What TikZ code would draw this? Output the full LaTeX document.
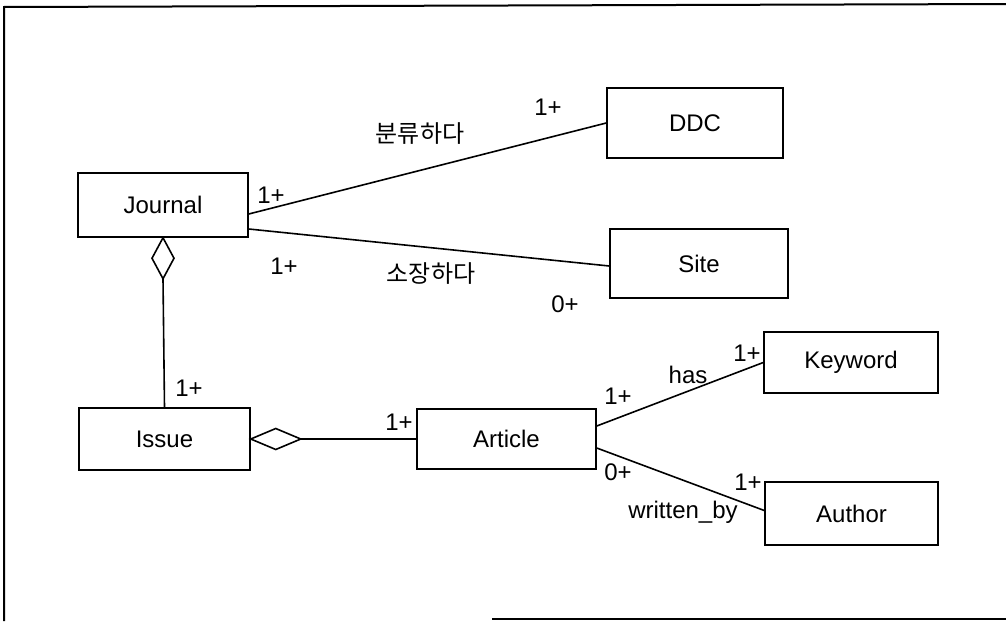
\documentclass[tikz,border=0pt]{standalone}
\usepackage{fontspec}
\setmainfont{Liberation Sans}
\newfontfamily\kr{Noto Sans CJK KR}
\usetikzlibrary{calc}
\begin{document}
\begin{tikzpicture}[x=1pt,y=-1pt,
  every node/.style={font=\fontsize{24}{28}\selectfont, inner sep=0pt},
  cls/.style={draw, line width=1.5pt, rectangle},
  conn/.style={line width=1.6pt},
  lbl/.style={anchor=center}]
\useasboundingbox (0,0) rectangle (1006,621);
% frame
\draw[line width=2pt] (1012,4) -- (4,7) -- (4,621);
\draw[line width=2pt] (492,619) -- (1012,619);
% classes
\node[cls, minimum width=170pt, minimum height=64pt] (journal) at (163,205) {Journal};
\node[cls, minimum width=171pt, minimum height=62pt] (issue) at (164.5,439) {Issue};
\node[cls, minimum width=179pt, minimum height=60pt] (article) at (506.5,439) {Article};
\node[cls, minimum width=174pt, minimum height=61pt] (keyword) at (851,362.5) {Keyword};
\node[cls, minimum width=173pt, minimum height=63pt] (author) at (851.5,513.5) {Author};
\node[cls, minimum width=176pt, minimum height=70pt] (ddc) at (695,123) {DDC};
\node[cls, minimum width=178pt, minimum height=69pt] (site) at (699,263.5) {Site};
% connectors
\draw[conn] ($(journal.east)+(0,9)$) -- (ddc.west);
\draw[conn] ($(journal.east)+(0,24)$) -- ($(site.west)+(0,2.5)$);
\draw[conn] (journal.south) -- ++(-11,20.5) -- ++(11,20.5) coordinate (d1) -- ++(11,-20.5) -- cycle;
\draw[conn] (d1) -- (issue.north);
\draw[conn] (issue.east) -- ++(25,-10.5) -- ++(25,10.5) coordinate (d2) -- ++(-25,10.5) -- cycle;
\draw[conn] (d2) -- (article.west);
\draw[conn] ($(article.east)+(0,-13)$) -- (keyword.west);
\draw[conn] ($(article.east)+(0,9)$) -- ($(author.west)+(0,-3)$);
% labels
\node[lbl] (m1) at (271,195) {1+};
\node[lbl] (m2) at (284,266) {1+};
\node[lbl] (r1) at (420,134) {\kr 분류하다};
\node[lbl] (m3) at (548,107) {1+};
\node[lbl] (r2) at (431,274) {\kr 소장하다};
\node[lbl] (m4) at (565,304) {0+};
\node[lbl] (m5) at (189,388) {1+};
\node[lbl] (m6) at (399,422) {1+};
\node[lbl] (m7) at (618,396) {1+};
\node[lbl] (r3) at (688,375) {has};
\node[lbl] (m8) at (747,353) {1+};
\node[lbl] (m9) at (618,472) {0+};
\node[lbl] (m10) at (748,482) {1+};
\node[lbl] (r4) at (683,512) {written\_by};
\end{tikzpicture}
\end{document}
